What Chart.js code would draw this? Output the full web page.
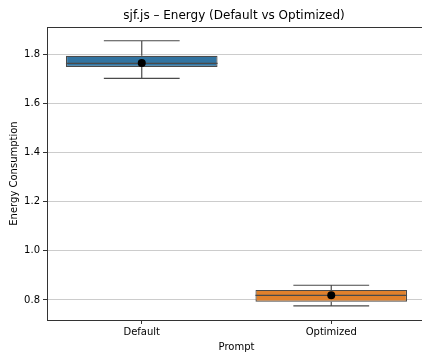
<!DOCTYPE html>
<html>
<head>
<meta charset="utf-8">
<script src="https://cdn.jsdelivr.net/npm/chart.js@4/dist/chart.umd.min.js"></script>
<style>
  html, body { margin: 0; padding: 0; background: #fff; overflow: hidden; }
  #wrap { width: 422px; height: 353px; overflow: hidden; }
</style>
</head>
<body>
<div id="wrap"><canvas id="c" width="426" height="353"></canvas></div>
<script>
// Box-plot summary per prompt variant
const categories   = ['Default', 'Optimized'];
const whiskerLow   = [1.702, 0.776];
const quartile1    = [1.748, 0.793];
const medians      = [1.763, 0.819];
const quartile3    = [1.794, 0.841];
const whiskerHigh  = [1.855, 0.860];
const means        = [1.765, 0.819];
const yTicks       = [0.8, 1.0, 1.2, 1.4, 1.6, 1.8];
const chartTitle   = 'sjf.js – Energy (Default vs Optimized)';

const boxColors = ['#3274a1', '#e1812c'];
const lineColor = '#4a4a4a';
const FONT = 'DejaVu Sans';
const VISIBLE_RIGHT = 421;

// Whiskers, caps and median lines drawn right after the boxes
const boxExtras = {
  id: 'boxExtras',
  afterDatasetDraw(chart, args) {
    if (args.index !== 0) return;
    const ctx = chart.ctx;
    const y = chart.scales.y;
    const meta = chart.getDatasetMeta(0);
    ctx.save();
    ctx.strokeStyle = lineColor;
    ctx.lineWidth = 1.2;
    meta.data.forEach((bar, i) => {
      const cx = bar.x;
      const w = bar.width;
      const yLo = y.getPixelForValue(whiskerLow[i]);
      const yHi = y.getPixelForValue(whiskerHigh[i]);
      const yQ1 = y.getPixelForValue(quartile1[i]);
      const yQ3 = y.getPixelForValue(quartile3[i]);
      const yMed = y.getPixelForValue(medians[i]);
      ctx.beginPath();
      ctx.moveTo(cx, yQ3); ctx.lineTo(cx, yHi);
      ctx.moveTo(cx, yQ1); ctx.lineTo(cx, yLo);
      ctx.moveTo(cx - w / 4, yHi); ctx.lineTo(cx + w / 4, yHi);
      ctx.moveTo(cx - w / 4, yLo); ctx.lineTo(cx + w / 4, yLo);
      ctx.stroke();
      ctx.beginPath();
      ctx.moveTo(cx - w / 2, yMed); ctx.lineTo(cx + w / 2, yMed);
      ctx.stroke();
    });
    ctx.restore();
  }
};

// Top frame line and the title centred over the plot area
const frameAndTitle = {
  id: 'frameAndTitle',
  afterDraw(chart) {
    const { ctx, chartArea } = chart;
    ctx.save();
    ctx.strokeStyle = '#333';
    ctx.lineWidth = 1;
    ctx.beginPath();
    ctx.moveTo(chartArea.left, chartArea.top + 0.5);
    ctx.lineTo(chartArea.right, chartArea.top + 0.5);
    ctx.stroke();
    ctx.fillStyle = '#000';
    ctx.font = '12px "' + FONT + '"';
    ctx.textAlign = 'center';
    ctx.textBaseline = 'middle';
    ctx.fillText(chartTitle, (chartArea.left + VISIBLE_RIGHT) / 2, 16);
    ctx.restore();
  }
};

new Chart(document.getElementById('c'), {
  type: 'bar',
  data: {
    labels: categories,
    datasets: [
      {
        type: 'bar',
        data: categories.map((_, i) => [quartile1[i], quartile3[i]]),
        backgroundColor: boxColors,
        borderColor: lineColor,
        borderWidth: 1.2,
        borderSkipped: false,
        categoryPercentage: 0.8,
        barPercentage: 1.0,
        order: 2
      },
      {
        type: 'line',
        data: means,
        showLine: false,
        pointRadius: 4,
        pointBackgroundColor: '#000',
        pointBorderColor: '#000',
        pointBorderWidth: 0,
        order: 1
      }
    ]
  },
  options: {
    responsive: false,
    animation: false,
    devicePixelRatio: 1,
    layout: { autoPadding: false, padding: { top: 27, right: 0, left: 0, bottom: 0 } },
    plugins: {
      legend: { display: false },
      tooltip: { enabled: false },
      title: { display: false }
    },
    scales: {
      x: {
        offset: true,
        grid: { display: true, drawOnChartArea: false, drawTicks: true, tickLength: 4, offset: false, color: '#333' },
        border: { display: true, color: '#333', width: 1 },
        ticks: { color: '#000', font: { family: FONT, size: 10 }, padding: 2 },
        title: { display: true, text: 'Prompt', color: '#000', font: { family: FONT, size: 10 }, padding: { top: 1, bottom: 0 } },
        afterFit(scale) { scale.height = 33; }
      },
      y: {
        min: 0.7186,
        max: 1.911,
        grid: { display: true, drawOnChartArea: true, drawTicks: true, tickLength: 4, color: '#cccccc', tickColor: '#333' },
        border: { display: true, color: '#333', width: 1 },
        ticks: {
          color: '#000',
          font: { family: FONT, size: 10 },
          padding: 3,
          callback: (v) => Number(v).toFixed(1)
        },
        afterBuildTicks(scale) { scale.ticks = yTicks.map(v => ({ value: v })); },
        title: { display: true, text: 'Energy Consumption', color: '#000', font: { family: FONT, size: 10 }, padding: { top: 8, bottom: 4 } },
        afterFit(scale) { scale.width = 47; }
      }
    }
  },
  plugins: [boxExtras, frameAndTitle]
});
</script>
</body>
</html>
